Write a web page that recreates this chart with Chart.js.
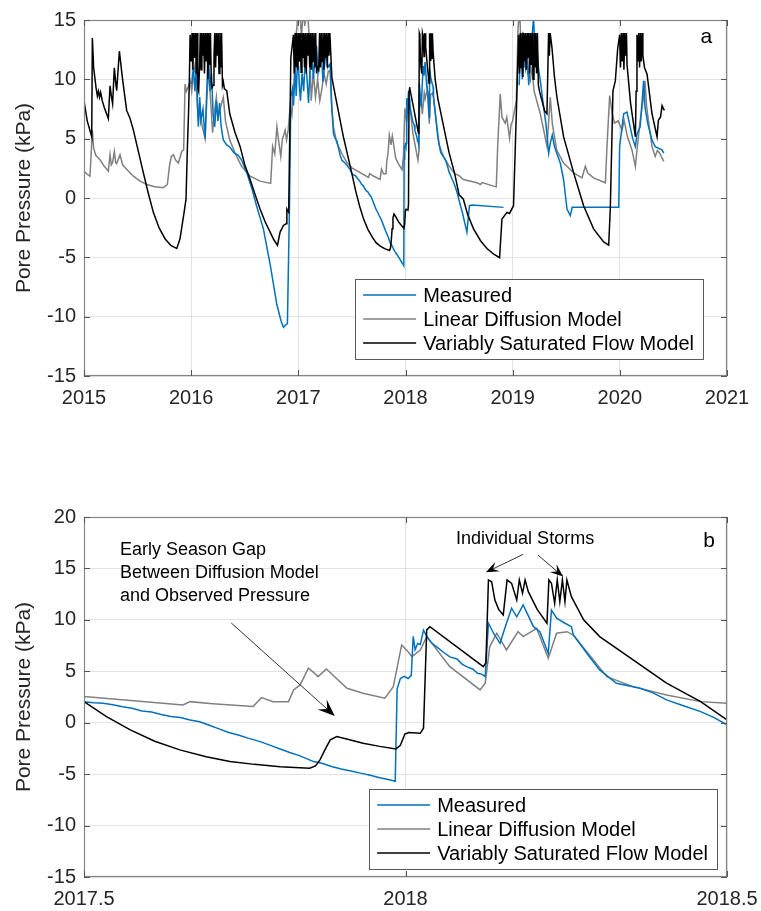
<!DOCTYPE html>
<html>
<head>
<meta charset="utf-8">
<script src="https://cdn.jsdelivr.net/npm/chart.js@4.4.1/dist/chart.umd.min.js"></script>
<style>
  html, body { margin: 0; padding: 0; background: #fff; }
  #wrap { position: relative; width: 761px; height: 911px; }
  .panel { position: absolute; left: 0; width: 761px; }
  #panelA { top: 0; height: 420px; }
  #panelB { top: 480px; height: 431px; }
</style>
</head>
<body>
<div id="wrap">
  <div class="panel" id="panelA"><canvas id="chartA"></canvas></div>
  <div class="panel" id="panelB"><canvas id="chartB"></canvas></div>
</div>
<script>
// pore pressure (kPa) vs decimal year
const measured = [
  [2016.005, 9.6], [2016.02, 11.0], [2016.035, 9.0], [2016.05, 11.5], [2016.06, 7.5], [2016.067, 6.0],
  [2016.08, 8.5], [2016.09, 6.5], [2016.11, 7.5], [2016.13, 5.0], [2016.145, 9.0], [2016.16, 12.5],
  [2016.175, 9.0], [2016.19, 10.5], [2016.205, 7.0], [2016.22, 6.0], [2016.235, 8.2], [2016.25, 6.5],
  [2016.265, 8.0], [2016.28, 6.0], [2016.30, 4.9], [2016.33, 4.5], [2016.36, 4.3], [2016.40, 3.8],
  [2016.44, 3.6], [2016.47, 3.2], [2016.52, 2.1], [2016.57, 0.7], [2016.61, -0.65], [2016.674, -2.6],
  [2016.737, -5.6], [2016.80, -9.0], [2016.84, -10.4], [2016.861, -10.9], [2016.88, -10.7], [2016.898, -10.6],
  [2016.917, -0.9], [2016.93, 8.5], [2016.945, 9.2], [2016.955, 7.8], [2016.97, 11.0], [2016.98, 8.6],
  [2016.995, 12.2], [2017.01, 9.5], [2017.02, 8.2], [2017.035, 10.5], [2017.05, 9.0], [2017.065, 12.0],
  [2017.08, 10.2], [2017.095, 8.0], [2017.11, 11.2], [2017.125, 12.5], [2017.14, 10.0], [2017.155, 11.8],
  [2017.17, 12.8], [2017.185, 10.6], [2017.20, 11.5], [2017.215, 12.2], [2017.23, 9.8], [2017.245, 11.2],
  [2017.26, 12.5], [2017.275, 11.0], [2017.297, 11.3], [2017.312, 7.7], [2017.328, 5.4], [2017.345, 5.0],
  [2017.36, 4.8], [2017.39, 3.6], [2017.406, 3.2], [2017.44, 2.9], [2017.484, 2.4],
  [2017.50, 2.05], [2017.515, 1.95], [2017.53, 1.9], [2017.545, 1.75], [2017.56, 1.55], [2017.575, 1.4],
  [2017.59, 1.15], [2017.605, 1.05], [2017.62, 0.8], [2017.635, 0.6], [2017.65, 0.5], [2017.665, 0.27],
  [2017.68, 0.1], [2017.695, -0.25], [2017.71, -0.6], [2017.725, -0.95], [2017.74, -1.2], [2017.755, -1.5],
  [2017.774, -1.84], [2017.79, -2.2], [2017.805, -2.55], [2017.82, -2.9], [2017.835, -3.2], [2017.857, -3.78],
  [2017.87, -3.95], [2017.885, -4.25], [2017.90, -4.5], [2017.915, -4.7], [2017.93, -4.9], [2017.945, -5.1],
  [2017.96, -5.35], [2017.975, -5.55], [2017.984, -5.7], [2017.987, 3.3], [2017.992, 4.3], [2017.998, 4.5],
  [2018.004, 4.3], [2018.009, 4.6], [2018.012, 8.4], [2018.015, 7.1], [2018.019, 7.7], [2018.023, 7.6],
  [2018.028, 9.0], [2018.033, 8.4], [2018.04, 7.8], [2018.05, 7.3], [2018.06, 6.8], [2018.069, 6.4],
  [2018.08, 6.2], [2018.088, 5.7], [2018.095, 5.45], [2018.105, 5.2], [2018.112, 4.8], [2018.119, 4.7],
  [2018.124, 4.48], [2018.129, 9.67], [2018.137, 8.7], [2018.147, 7.72], [2018.157, 9.67], [2018.165, 11.13],
  [2018.173, 10.3], [2018.183, 11.45], [2018.194, 10.0], [2018.199, 9.34], [2018.209, 8.85], [2018.22, 7.07],
  [2018.222, 6.75], [2018.227, 10.96], [2018.235, 10.16], [2018.248, 9.67], [2018.258, 9.34], [2018.261, 8.53],
  [2018.282, 6.75], [2018.302, 5.13], [2018.328, 3.84], [2018.365, 3.35], [2018.385, 2.9], [2018.406, 2.22],
  [2018.43, 1.7], [2018.459, 1.08], [2018.48, 0.5], [2018.50, -0.21], [2018.53, -1.2], [2018.573, -2.87],
  [2018.597, -0.65], [2018.62, -0.6], [2018.915, -0.79], [2018.94, null],
  [2019.06, 9.5], [2019.075, 12.5], [2019.09, 10.0], [2019.105, 13.0], [2019.12, 11.0], [2019.135, 12.0],
  [2019.15, 9.5], [2019.165, 12.8], [2019.18, 13.5], [2019.195, 15.2], [2019.21, 12.0], [2019.225, 13.0],
  [2019.24, 11.0], [2019.258, 9.87], [2019.289, 7.66], [2019.31, 6.27], [2019.336, 3.78], [2019.351, 4.61],
  [2019.37, 5.3], [2019.39, 4.33], [2019.444, 2.95], [2019.475, 1.56], [2019.507, -0.93], [2019.538, -1.48],
  [2019.555, -0.79], [2019.99, -0.79], [2019.998, 4.33], [2020.036, 7.1], [2020.067, 7.24], [2020.09, 6.27],
  [2020.12, 5.0], [2020.145, 4.33], [2020.16, 5.4], [2020.19, 6.0], [2020.222, 9.87], [2020.235, 7.66],
  [2020.26, 6.3], [2020.30, 4.88], [2020.33, 4.33], [2020.394, 4.05], [2020.41, 3.78]
];

const diffusion = [
  [2015.0, 2.26], [2015.03, 2.0], [2015.056, 1.84], [2015.078, 5.72], [2015.09, 4.2], [2015.11, 3.6],
  [2015.149, 3.22], [2015.19, 2.67], [2015.227, 2.26], [2015.243, 3.64], [2015.255, 2.8], [2015.267, 3.0],
  [2015.283, 3.92], [2015.295, 3.0], [2015.305, 2.9], [2015.336, 3.64], [2015.36, 2.8], [2015.40, 2.4],
  [2015.461, 1.84], [2015.52, 1.45], [2015.585, 1.14], [2015.66, 0.95], [2015.74, 0.87], [2015.778, 1.14],
  [2015.797, 2.67], [2015.815, 3.5], [2015.834, 3.64], [2015.855, 3.2], [2015.881, 2.95], [2015.912, 3.92],
  [2015.93, 4.05], [2015.943, 9.6], [2015.955, 9.0], [2015.97, 9.3], [2015.99, 9.87], [2016.005, 9.0],
  [2016.02, 10.4], [2016.036, 11.26], [2016.05, 9.0], [2016.067, 6.5], [2016.08, 8.0], [2016.10, 6.2],
  [2016.13, 5.0], [2016.145, 8.0], [2016.16, 10.8], [2016.18, 8.5], [2016.20, 5.5], [2016.22, 7.5],
  [2016.235, 8.5], [2016.25, 6.8], [2016.27, 7.5], [2016.30, 8.49], [2016.32, 6.5], [2016.36, 4.88],
  [2016.41, 3.78], [2016.47, 2.67], [2016.55, 1.84], [2016.643, 1.42], [2016.742, 1.23], [2016.76, 4.33],
  [2016.78, 3.7], [2016.80, 6.0], [2016.815, 4.9], [2016.836, 3.5], [2016.85, 4.9], [2016.877, 5.72],
  [2016.89, 4.88], [2016.905, 5.7], [2016.923, 7.66], [2016.94, 7.0], [2016.96, 9.87], [2016.975, 13.5],
  [2016.986, 14.3], [2017.0, 16.0], [2017.015, 15.5], [2017.03, 13.5], [2017.045, 16.0], [2017.06, 14.5],
  [2017.075, 16.0], [2017.09, 15.2], [2017.105, 13.0], [2017.12, 8.2], [2017.14, 10.5], [2017.16, 8.5],
  [2017.18, 10.0], [2017.20, 8.2], [2017.22, 9.2], [2017.24, 10.5], [2017.26, 9.6], [2017.28, 10.7],
  [2017.297, 10.7], [2017.31, 7.9], [2017.328, 6.0], [2017.36, 4.61], [2017.42, 3.5], [2017.46, 2.9],
  [2017.50, 2.54], [2017.654, 1.73], [2017.665, 2.05], [2017.70, 1.85], [2017.763, 1.57], [2017.776, 2.44],
  [2017.794, 2.05], [2017.818, 2.05], [2017.826, 3.19], [2017.836, 3.67], [2017.849, 5.3], [2017.857, 4.9],
  [2017.864, 4.48], [2017.877, 5.23], [2017.909, 3.35], [2017.934, 2.87], [2017.968, 2.38], [2017.981, 3.51],
  [2017.994, 7.56], [2018.004, 6.91], [2018.010, 6.42], [2018.023, 7.07], [2018.033, 8.37], [2018.069, 5.45],
  [2018.116, 3.19], [2018.124, 3.84], [2018.131, 7.4], [2018.142, 8.7], [2018.157, 7.07], [2018.175, 8.85],
  [2018.183, 8.37], [2018.204, 9.18], [2018.222, 6.26], [2018.235, 8.7], [2018.251, 8.85], [2018.261, 8.53],
  [2018.282, 6.91], [2018.313, 4.48], [2018.354, 3.51], [2018.406, 2.7], [2018.459, 2.05], [2018.50, 1.89],
  [2018.54, 1.56], [2018.667, 1.28], [2018.70, 1.14], [2018.715, 1.3], [2018.822, 1.0], [2018.847, 0.95],
  [2018.86, 4.33], [2018.884, 8.77], [2018.90, 6.83], [2018.93, 6.3], [2018.945, 6.8], [2018.971, 5.03],
  [2018.985, 6.2], [2019.0, 6.5], [2019.034, 8.21], [2019.05, 14.3], [2019.065, 16.0], [2019.08, 12.0],
  [2019.095, 14.0], [2019.11, 11.0], [2019.125, 13.0], [2019.14, 10.5], [2019.164, 9.87], [2019.18, 11.0],
  [2019.20, 9.0], [2019.23, 8.0], [2019.258, 7.1], [2019.29, 5.7], [2019.32, 4.33], [2019.351, 8.49],
  [2019.37, 6.27], [2019.41, 4.05], [2019.475, 2.95], [2019.569, 2.12], [2019.647, 1.7], [2019.678, 2.67],
  [2019.70, 2.1], [2019.755, 1.7], [2019.865, 1.28], [2019.88, 4.33], [2019.905, 8.63], [2019.93, 7.1],
  [2019.95, 6.3], [2019.985, 6.5], [2020.02, 5.72], [2020.04, 6.55], [2020.07, 5.2], [2020.113, 4.05],
  [2020.145, 2.67], [2020.16, 4.0], [2020.19, 6.55], [2020.222, 8.49], [2020.235, 9.87], [2020.25, 7.7],
  [2020.27, 6.3], [2020.30, 4.33], [2020.33, 3.5], [2020.35, 4.0], [2020.37, 3.8], [2020.41, 3.09]
];

const flow = [
  [2015.0, 8.21], [2015.03, 6.5], [2015.072, 5.17], [2015.078, 13.48], [2015.09, 11.0], [2015.112, 9.32],
  [2015.125, 8.6], [2015.135, 9.0], [2015.145, 8.5], [2015.155, 8.9], [2015.17, 8.2], [2015.19, 7.6],
  [2015.227, 6.69], [2015.243, 9.46], [2015.255, 8.6], [2015.267, 7.93], [2015.283, 10.98], [2015.295, 9.8],
  [2015.305, 9.04], [2015.33, 12.37], [2015.36, 10.0], [2015.398, 7.38], [2015.43, 6.7], [2015.461, 5.72],
  [2015.50, 4.2], [2015.554, 2.12], [2015.60, 0.4], [2015.647, -1.21], [2015.70, -2.5], [2015.756, -3.43],
  [2015.81, -4.0], [2015.866, -4.26], [2015.896, -3.43], [2015.934, -1.21], [2015.952, -0.1], [2015.965, 4.33],
  [2015.975, 7.0], [2015.983, 9.87], [2015.99, 13.75],
  [2016.0, 11.5], [2016.008, 13.9], [2016.016, 10.8], [2016.024, 13.9], [2016.032, 11.8], [2016.04, 13.9],
  [2016.048, 10.5], [2016.055, 13.9], [2016.062, 9.3], [2016.07, 9.0], [2016.078, 11.0], [2016.085, 13.9],
  [2016.093, 10.8], [2016.10, 13.9], [2016.108, 12.0], [2016.116, 13.9], [2016.124, 10.5], [2016.132, 13.9],
  [2016.14, 11.5], [2016.148, 13.9], [2016.156, 10.0], [2016.164, 13.9], [2016.172, 11.2], [2016.18, 13.9],
  [2016.188, 9.8], [2016.195, 9.3], [2016.205, 9.5], [2016.213, 12.0], [2016.22, 13.9], [2016.228, 11.0],
  [2016.236, 13.9], [2016.244, 12.0], [2016.252, 13.9], [2016.26, 10.5], [2016.268, 13.9], [2016.276, 11.0],
  [2016.284, 13.9], [2016.292, 9.5], [2016.30, 9.8], [2016.31, 9.2], [2016.332, 9.04], [2016.36, 7.1],
  [2016.41, 5.5], [2016.457, 4.33], [2016.50, 2.8], [2016.55, 1.56], [2016.60, 0.2], [2016.643, -0.93],
  [2016.69, -2.0], [2016.737, -2.87], [2016.77, -3.5], [2016.805, -3.98], [2016.83, -2.87], [2016.861, -2.31],
  [2016.885, -2.18], [2016.893, -0.93], [2016.91, -1.2], [2016.93, 11.82], [2016.954, 13.75],
  [2016.962, 10.5], [2016.97, 13.9], [2016.978, 11.0], [2016.986, 13.9], [2016.994, 10.8], [2017.002, 13.9],
  [2017.01, 11.5], [2017.018, 13.9], [2017.026, 10.6], [2017.034, 13.9], [2017.042, 11.8], [2017.05, 13.9],
  [2017.058, 11.0], [2017.066, 13.9], [2017.074, 10.5], [2017.082, 13.9], [2017.09, 12.0], [2017.098, 13.9],
  [2017.106, 11.0], [2017.114, 13.9], [2017.122, 10.8], [2017.13, 13.9], [2017.138, 11.5], [2017.146, 13.9],
  [2017.154, 11.0], [2017.162, 13.9], [2017.17, 10.5], [2017.178, 11.0], [2017.19, 10.8], [2017.198, 13.9],
  [2017.206, 11.0], [2017.214, 13.9], [2017.222, 11.5], [2017.23, 13.9], [2017.238, 10.8], [2017.246, 13.9],
  [2017.254, 11.8], [2017.262, 13.9], [2017.27, 11.0], [2017.278, 13.9], [2017.286, 12.0], [2017.294, 13.9],
  [2017.313, 10.15], [2017.36, 7.93], [2017.42, 5.17], [2017.50, 2.05], [2017.535, 0.6], [2017.572, -0.7],
  [2017.61, -1.8], [2017.649, -2.64], [2017.69, -3.3], [2017.727, -3.78], [2017.765, -4.05], [2017.805, -4.27],
  [2017.851, -4.42], [2017.86, -4.2], [2017.867, -3.61], [2017.875, -2.6], [2017.883, -1.67], [2017.893, -1.35],
  [2017.91, -1.6], [2017.934, -1.99], [2017.96, -2.3], [2017.985, -2.55], [2017.992, -2.2], [2017.999, -1.1],
  [2018.005, -0.95], [2018.023, -1.02], [2018.028, -0.53], [2018.033, 9.02], [2018.038, 9.34], [2018.121, 5.45],
  [2018.125, 5.8], [2018.129, 13.88], [2018.134, 13.7], [2018.139, 11.93], [2018.145, 11.0], [2018.152, 10.48],
  [2018.158, 13.88], [2018.165, 13.55], [2018.173, 11.93], [2018.177, 13.88], [2018.182, 12.58], [2018.186, 13.88],
  [2018.191, 12.74], [2018.205, 11.0], [2018.220, 9.67], [2018.223, 13.88], [2018.227, 13.55], [2018.232, 11.61],
  [2018.236, 13.88], [2018.240, 11.77], [2018.244, 13.88], [2018.248, 11.77], [2018.251, 13.88], [2018.258, 12.26],
  [2018.277, 10.0], [2018.302, 8.37], [2018.354, 6.1], [2018.406, 3.84], [2018.459, 2.05], [2018.50, 0.27],
  [2018.54, -0.1], [2018.58, -1.4], [2018.635, -2.6], [2018.70, -3.6], [2018.76, -4.26], [2018.82, -4.7],
  [2018.878, -5.03], [2018.90, -1.77], [2018.947, -1.21], [2018.97, -1.3], [2019.008, -0.65], [2019.034, 7.1],
  [2019.055, 13.75], [2019.063, 10.5], [2019.071, 13.9], [2019.079, 11.0], [2019.087, 13.9], [2019.095, 10.2],
  [2019.103, 13.9], [2019.111, 11.5], [2019.119, 13.9], [2019.127, 10.8], [2019.135, 13.9], [2019.143, 11.8],
  [2019.151, 13.9], [2019.159, 10.5], [2019.167, 13.9], [2019.175, 11.2], [2019.183, 13.9], [2019.191, 10.0],
  [2019.199, 13.9], [2019.207, 11.0], [2019.215, 13.9], [2019.223, 10.5], [2019.231, 13.9], [2019.24, 9.5],
  [2019.25, 9.0], [2019.30, 7.3], [2019.32, 7.1], [2019.335, 13.9], [2019.342, 12.0], [2019.35, 13.9],
  [2019.367, 12.65], [2019.39, 10.2], [2019.413, 8.49], [2019.475, 5.17], [2019.569, 2.12], [2019.662, -0.65],
  [2019.755, -2.6], [2019.849, -3.7], [2019.896, -3.98], [2019.911, -0.93], [2019.936, 9.04], [2019.958, 9.87],
  [2019.98, 12.6], [2019.998, 13.75], [2020.006, 11.0], [2020.014, 13.9], [2020.022, 11.5], [2020.03, 13.9],
  [2020.038, 10.8], [2020.046, 13.9], [2020.054, 12.0], [2020.062, 13.9], [2020.067, 11.26], [2020.10, 8.0],
  [2020.145, 5.17], [2020.152, 9.0], [2020.16, 13.75], [2020.168, 11.5], [2020.176, 13.9], [2020.184, 11.0],
  [2020.192, 13.9], [2020.20, 11.5], [2020.208, 13.9], [2020.215, 12.0], [2020.23, 11.0], [2020.254, 10.43],
  [2020.30, 7.1], [2020.347, 5.17], [2020.36, 6.55], [2020.38, 6.83], [2020.394, 7.79], [2020.415, 7.38]
];

const seriesLabels = ['Measured', 'Linear Diffusion Model', 'Variably Saturated Flow Model'];
const seriesColors = ['#0072BD', '#808080', '#000000'];

const xTicksA = [2015, 2016, 2017, 2018, 2019, 2020, 2021];
const yTicksA = [-15, -10, -5, 0, 5, 10, 15];
const xTicksB = [2017.5, 2018, 2018.5];
const yTicksB = [-15, -10, -5, 0, 5, 10, 15, 20];

const FONT = '"Liberation Sans", Arial, Helvetica, sans-serif';
const TEXT = '#262626';

// box + inward ticks on all four sides, like matlab axes
const framePlugin = {
  id: 'frame',
  afterDatasetsDraw(chart) {
    const { ctx, chartArea: a, scales: { x, y } } = chart;
    ctx.save();
    ctx.strokeStyle = '#858585';
    ctx.lineWidth = 1.2;
    ctx.strokeRect(a.left + 0.5, a.top + 0.5, a.right - a.left - 1, a.bottom - a.top - 1);
    ctx.strokeStyle = '#555';
    ctx.lineWidth = 1;
    ctx.beginPath();
    x.ticks.forEach(t => {
      const px = Math.round(x.getPixelForValue(t.value)) + 0.5;
      ctx.moveTo(px, a.bottom); ctx.lineTo(px, a.bottom - 6);
      ctx.moveTo(px, a.top); ctx.lineTo(px, a.top + 6);
    });
    y.ticks.forEach(t => {
      const py = Math.round(y.getPixelForValue(t.value)) + 0.5;
      ctx.moveTo(a.left, py); ctx.lineTo(a.left + 6, py);
      ctx.moveTo(a.right, py); ctx.lineTo(a.right - 6, py);
    });
    ctx.stroke();
    ctx.restore();
  }
};

function boxLegend(offRight, offBottom) {
  return {
    id: 'boxLegend',
    afterDraw(chart) {
      const { ctx, chartArea: a } = chart;
      const rowH = 24;
      ctx.save();
      ctx.font = '20px ' + FONT;
      const textW = Math.max(...chart.data.datasets.map(d => ctx.measureText(d.label).width));
      const w = 68 + textW + 9, h = rowH * 3 + 8;
      const right = a.right - offRight, bottom = a.bottom - offBottom;
      const left = right - w, top = bottom - h;
      ctx.fillStyle = '#fff';
      ctx.fillRect(left, top, w, h);
      ctx.strokeStyle = '#5a5a5a';
      ctx.lineWidth = 1;
      ctx.strokeRect(Math.round(left) + 0.5, Math.round(top) + 0.5, Math.round(w), Math.round(h));
      ctx.textBaseline = 'middle';
      chart.data.datasets.forEach((d, i) => {
        const cy = top + 16 + i * rowH;
        ctx.strokeStyle = d.borderColor;
        ctx.lineWidth = 1.5;
        ctx.beginPath();
        ctx.moveTo(left + 8, cy); ctx.lineTo(left + 61, cy);
        ctx.stroke();
        ctx.fillStyle = '#000';
        ctx.fillText(d.label, left + 68, cy + 1);
      });
      ctx.restore();
    }
  };
}

function notesPlugin(notes) {
  return {
    id: 'notes',
    afterDraw(chart) {
      const { ctx, scales: { x, y } } = chart;
      ctx.save();
      notes.texts.forEach(n => {
        ctx.font = n.size + 'px ' + FONT;
        ctx.fillStyle = '#000';
        ctx.textAlign = n.align || 'left';
        ctx.textBaseline = 'middle';
        ctx.fillText(n.text, x.getPixelForValue(n.x), y.getPixelForValue(n.y));
      });
      notes.arrows.forEach(ar => {
        const x1 = x.getPixelForValue(ar.x1), y1 = y.getPixelForValue(ar.y1);
        const x2 = x.getPixelForValue(ar.x2), y2 = y.getPixelForValue(ar.y2);
        const len = Math.hypot(x2 - x1, y2 - y1);
        const ux = (x2 - x1) / len, uy = (y2 - y1) / len;
        const nx = -uy, ny = ux;
        const L = ar.head, W = ar.head * 0.4;
        ctx.strokeStyle = '#333';
        ctx.lineWidth = 1;
        ctx.beginPath();
        ctx.moveTo(x1, y1);
        ctx.lineTo(x2 - ux * L * 0.6, y2 - uy * L * 0.6);
        ctx.stroke();
        ctx.fillStyle = '#000';
        ctx.beginPath();
        ctx.moveTo(x2, y2);
        ctx.lineTo(x2 - ux * L + nx * W, y2 - uy * L + ny * W);
        ctx.lineTo(x2 - ux * L * 0.6, y2 - uy * L * 0.6);
        ctx.lineTo(x2 - ux * L - nx * W, y2 - uy * L - ny * W);
        ctx.closePath();
        ctx.fill();
      });
      ctx.restore();
    }
  };
}

function makeChart(id, cfg) {
  const sets = [measured, diffusion, flow].map((s, i) => ({
    label: seriesLabels[i],
    data: s.map(([x, y]) => ({ x, y })),
    borderColor: seriesColors[i],
    borderWidth: 1.5,
    pointRadius: 0,
    tension: 0,
    spanGaps: false,
    fill: false,
    order: [1, 2, 0][i]
  }));
  return new Chart(document.getElementById(id), {
    type: 'line',
    data: { datasets: sets },
    options: {
      responsive: true,
      maintainAspectRatio: false,
      animation: false,
      events: [],
      layout: { padding: cfg.padding },
      plugins: { legend: { display: false }, tooltip: { enabled: false } },
      scales: {
        x: {
          type: 'linear',
          min: cfg.xTicks[0],
          max: cfg.xTicks[cfg.xTicks.length - 1],
          afterBuildTicks: s => { s.ticks = cfg.xTicks.map(v => ({ value: v })); },
          afterFit: s => { s.height = cfg.xAxisHeight; },
          ticks: { callback: v => String(v), font: { size: 20, family: FONT }, color: TEXT, padding: 3, maxRotation: 0 },
          // invisible tick marks push labels down without widening the right overflow
          grid: { color: '#e3e3e3', drawTicks: true, tickLength: 7, tickColor: 'rgba(0,0,0,0)' },
          border: { display: false }
        },
        y: {
          type: 'linear',
          min: cfg.yTicks[0],
          max: cfg.yTicks[cfg.yTicks.length - 1],
          afterBuildTicks: s => { s.ticks = cfg.yTicks.map(v => ({ value: v })); },
          afterFit: s => { s.width = 72; },
          ticks: { callback: v => String(v), font: { size: 20, family: FONT }, color: TEXT, padding: 8 },
          grid: { color: '#e3e3e3', drawTicks: false },
          border: { display: false },
          title: { display: true, text: 'Pore Pressure (kPa)', font: { size: 21, family: FONT }, color: TEXT, padding: { top: 0, bottom: 0 } }
        }
      }
    },
    plugins: [framePlugin, boxLegend(cfg.legend[0], cfg.legend[1]), notesPlugin(cfg.notes)]
  });
}

makeChart('chartA', {
  xTicks: xTicksA, yTicks: yTicksA,
  padding: { left: 12, right: 34, top: 15, bottom: 0 },
  xAxisHeight: 44,
  legend: [24, 17],
  notes: {
    texts: [{ text: 'a', x: 2020.808, y: 13.59, size: 21, align: 'center' }],
    arrows: []
  }
});

makeChart('chartB', {
  xTicks: xTicksB, yTicks: yTicksB,
  padding: { left: 12, right: 34, top: 37, bottom: 0 },
  xAxisHeight: 34,
  legend: [10, 8],
  notes: {
    texts: [
      { text: 'b', x: 2018.472, y: 17.67, size: 21, align: 'center' },
      { text: 'Early Season Gap', x: 2017.556, y: 16.79, size: 18 },
      { text: 'Between Diffusion Model', x: 2017.556, y: 14.59, size: 18 },
      { text: 'and Observed Pressure', x: 2017.556, y: 12.35, size: 18 },
      { text: 'Individual Storms', x: 2018.186, y: 17.86, size: 18, align: 'center' }
    ],
    arrows: [
      { x1: 2017.729, y1: 9.70, x2: 2017.890, y2: 0.66, head: 17 },
      { x1: 2018.183, y1: 16.37, x2: 2018.125, y2: 14.62, head: 13 },
      { x1: 2018.206, y1: 16.3, x2: 2018.245, y2: 14.21, head: 13 }
    ]
  }
});
</script>
</body>
</html>
